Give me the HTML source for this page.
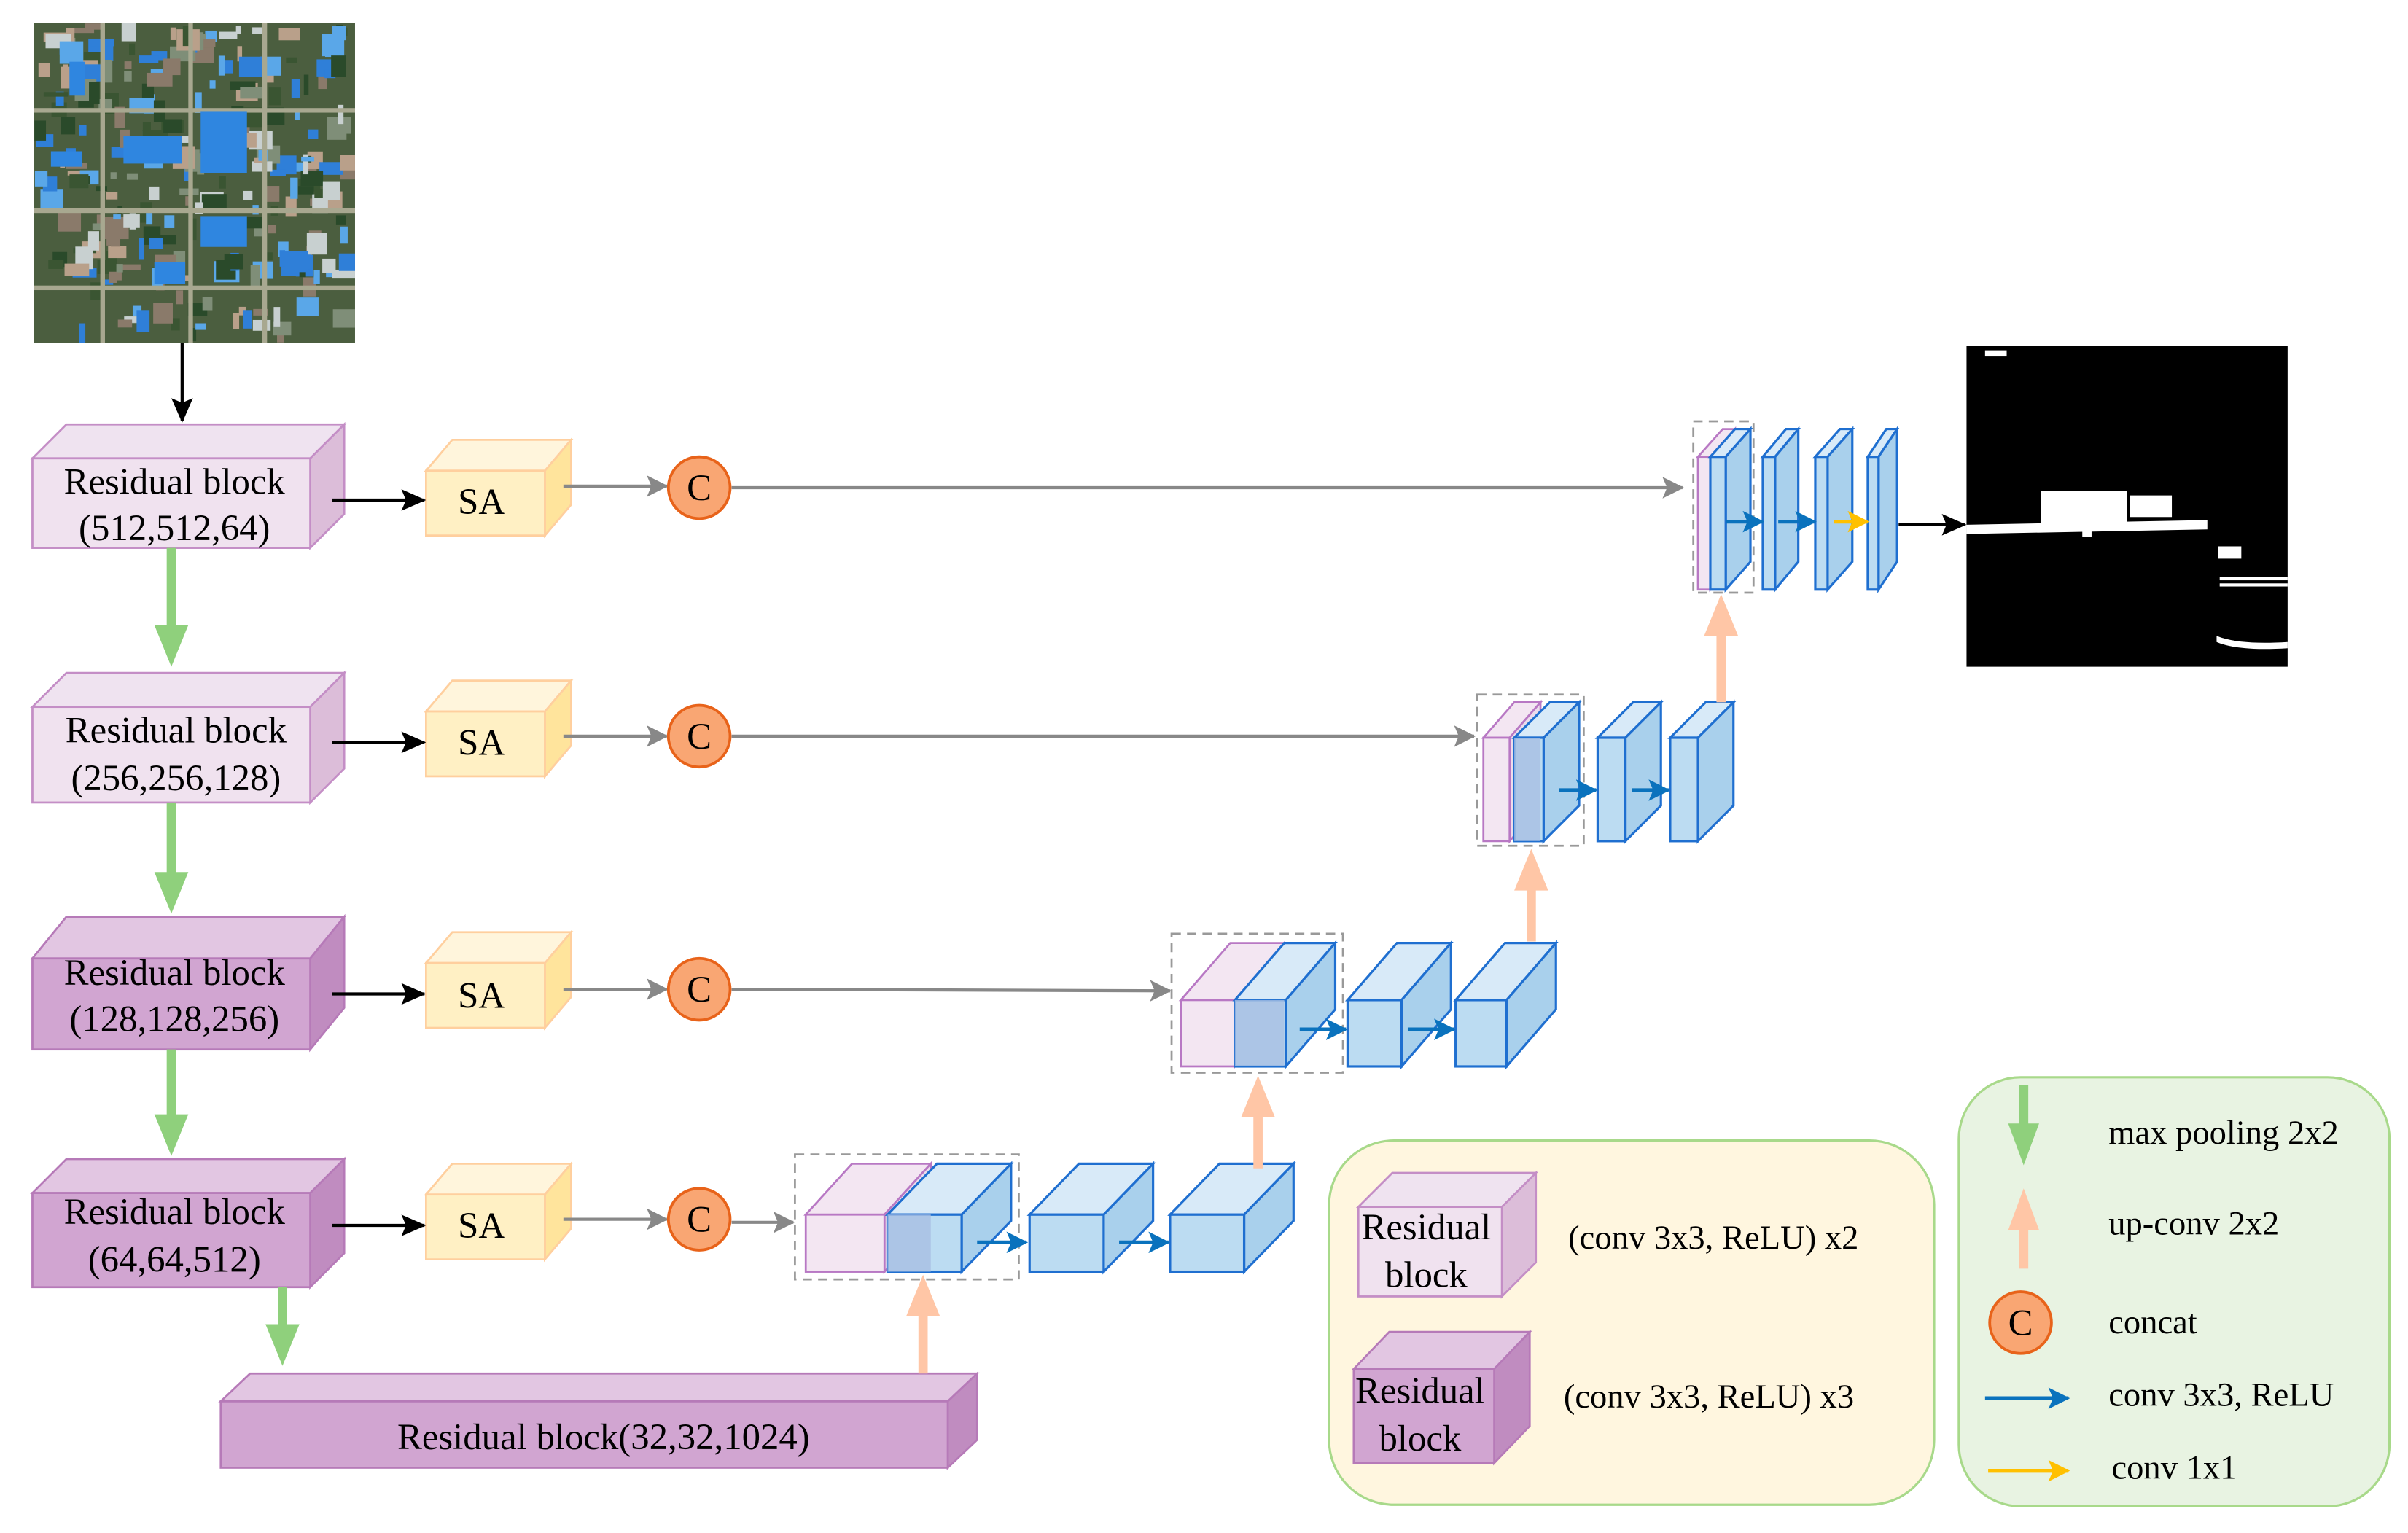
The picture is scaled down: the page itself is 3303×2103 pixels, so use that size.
<!DOCTYPE html>
<html><head><meta charset="utf-8"><style>
html,body{margin:0;padding:0;background:#fff}
svg{display:block}
text{font-family:"Liberation Serif","DejaVu Serif","Times New Roman",serif;fill:#000}
</style></head><body>
<svg id="s" width="3303" height="2103" viewBox="0 0 1560 993.3" preserveAspectRatio="none" xmlns="http://www.w3.org/2000/svg" font-family="Liberation Serif, DejaVu Serif, serif">
<defs>
<marker id="mk" markerWidth="16" markerHeight="14" refX="15" refY="7" orient="auto" markerUnits="userSpaceOnUse"><path d="M0,0 L16,7 L0,14 L3,7z" fill="#000"/></marker>
<marker id="mg" markerWidth="14" markerHeight="14" refX="13" refY="7" orient="auto" markerUnits="userSpaceOnUse"><path d="M0,0 L14,7 L0,14 L3,7z" fill="#888"/></marker>
<marker id="mb" markerWidth="14" markerHeight="14" refX="13" refY="7" orient="auto" markerUnits="userSpaceOnUse"><path d="M0,0 L14,7 L0,14 L3,7z" fill="#0a72bd"/></marker>
<marker id="my" markerWidth="14" markerHeight="14" refX="13" refY="7" orient="auto" markerUnits="userSpaceOnUse"><path d="M0,0 L14,7 L0,14 L3,7z" fill="#ffc000"/></marker>
</defs>
<g id="sat">
<rect x="22" y="15" width="208" height="207" fill="#4b5e3f"/>
</g>
<rect x="1274" y="224" width="208" height="208" fill="#000"/>
<g fill="#fff">
<rect x="1286" y="227" width="14" height="4"/>
<polygon points="1274,340 1430,337 1430,343 1274,346"/>
<rect x="1322" y="318" width="56" height="22"/>
<rect x="1380" y="321" width="27" height="14"/>
<rect x="1349" y="340" width="6" height="8"/>
<rect x="1437" y="354" width="15" height="8"/>
<rect x="1438" y="374" width="44" height="2"/>
<rect x="1438" y="378" width="44" height="2"/>
<path d="M1436,412 Q1450,418 1482,416 L1482,420 Q1450,422 1436,416z"/>
</g>
<rect x="861" y="739" width="392" height="236" rx="42" fill="#fff6df" stroke="#a8d98a" stroke-width="1.5"/>
<rect x="1269" y="698" width="279" height="278" rx="40" fill="#e8f3e2" stroke="#a8d98a" stroke-width="1.5"/>
<g id="shapes"></g>
<g stroke="#000" stroke-width="2" fill="none">
<line x1="118" y1="222" x2="118" y2="273" marker-end="url(#mk)"/>
<line x1="215" y1="324" x2="275" y2="324" marker-end="url(#mk)"/>
<line x1="215" y1="481" x2="275" y2="481" marker-end="url(#mk)"/>
<line x1="215" y1="644" x2="275" y2="644" marker-end="url(#mk)"/>
<line x1="215" y1="794" x2="275" y2="794" marker-end="url(#mk)"/>
<line x1="1230" y1="340" x2="1273" y2="340" marker-end="url(#mk)"/>
</g>
<g stroke="#888" stroke-width="2" fill="none">
<line x1="365" y1="315" x2="432" y2="315" marker-end="url(#mg)"/>
<line x1="365" y1="477" x2="432" y2="477" marker-end="url(#mg)"/>
<line x1="365" y1="641" x2="432" y2="641" marker-end="url(#mg)"/>
<line x1="365" y1="790" x2="432" y2="790" marker-end="url(#mg)"/>
<line x1="474" y1="316" x2="1090" y2="316" marker-end="url(#mg)"/>
<line x1="474" y1="477" x2="955" y2="477" marker-end="url(#mg)"/>
<line x1="474" y1="641" x2="758" y2="642" marker-end="url(#mg)"/>
<line x1="474" y1="792" x2="514" y2="792" marker-end="url(#mg)"/>
</g>
<g id="fat"></g>
<g id="circ"></g>
<g font-size="24" text-anchor="middle">
<text x="113" y="320">Residual block</text><text x="113" y="350">(512,512,64)</text>
<text x="114" y="481">Residual block</text><text x="114" y="512">(256,256,128)</text>
<text x="113" y="638">Residual block</text><text x="113" y="668">(128,128,256)</text>
<text x="113" y="793">Residual block</text><text x="113" y="824">(64,64,512)</text>
<text x="391" y="939">Residual block(32,32,1024)</text>
<text x="312" y="333">SA</text><text x="312" y="489">SA</text><text x="312" y="653">SA</text><text x="312" y="802">SA</text>
<text x="924" y="803">Residual</text><text x="924" y="834">block</text>
<text x="920" y="909">Residual</text><text x="920" y="940">block</text>
<text x="453" y="324">C</text><text x="453" y="485">C</text><text x="453" y="649">C</text><text x="453" y="798">C</text><text x="1309" y="865">C</text>
</g>
<g font-size="22">
<text x="1016" y="809">(conv 3x3, ReLU) x2</text>
<text x="1013" y="912">(conv 3x3, ReLU) x3</text>
<text x="1366" y="741">max pooling 2x2</text>
<text x="1366" y="800">up-conv 2x2</text>
<text x="1366" y="864">concat</text>
<text x="1366" y="911">conv 3x3, ReLU</text>
<text x="1368" y="958">conv 1x1</text>
</g>
</svg>
<script>
var NS="http://www.w3.org/2000/svg";
function el(p,t,a,before){var e=document.createElementNS(NS,t);for(var k in a)e.setAttribute(k,a[k]);document.getElementById(p).appendChild(e);return e;}
function box(x,y,w,h,dx,dy,c,p){p=p||"shapes";var sw=c.sw||1.3;
 el(p,"polygon",{points:[x,y,x+dx,y-dy,x+w+dx,y-dy,x+w,y].join(","),fill:c.t,stroke:c.s,"stroke-width":sw,"fill-opacity":c.o||1});
 el(p,"polygon",{points:[x+w,y,x+w+dx,y-dy,x+w+dx,y+h-dy,x+w,y+h].join(","),fill:c.r,stroke:c.s,"stroke-width":sw,"fill-opacity":c.o||1});
 el(p,"rect",{x:x,y:y,width:w,height:h,fill:c.f,stroke:c.s,"stroke-width":sw,"fill-opacity":c.o||1});}
var L={f:"#f0e2ef",t:"#efe3f0",r:"#dcbdd9",s:"#c48ec6"};
var D={f:"#d1a5d1",t:"#e2c6e2",r:"#c08cc0",s:"#b67ab8"};
var S={f:"#fff0c4",t:"#fff5dc",r:"#ffe49c",s:"#ffcf9e"};
var P={f:"#f3e6f2",t:"#f3e6f2",r:"#ecdcec",s:"#b878c4"};
var B={f:"#bcdcf2",t:"#d8eaf8",r:"#a9d0ec",s:"#1f6fd0",sw:1.5};
(function(){var cols=["#2f7fd8","#5aa7e8","#c8d0d0","#8a7a6a","#3a5532","#7f8e78","#b9a08a","#2a4a2a"];
 var seed=7;function r(){seed=(seed*9301+49297)%233280;return seed/233280;}
 for(var i=0;i<260;i++){var x=22+r()*200,y=15+r()*200,w=3+r()*14,h=3+r()*12;
  var c=cols[Math.floor(r()*cols.length)];el("sat","rect",{x:x,y:y,width:Math.min(w,230-x),height:Math.min(h,222-y),fill:c});}
 [[22,70,208,3],[22,135,208,3],[22,185,208,3],[65,15,3,207],[122,15,3,207],[170,15,3,207]].forEach(function(a){el("sat","rect",{x:a[0],y:a[1],width:a[2],height:a[3],fill:"#a8a890"});});
 [[80,88,38,18],[130,72,30,40],[45,40,10,22],[130,140,30,20],[100,170,20,14],[33,98,20,10]].forEach(function(a){el("sat","rect",{x:a[0],y:a[1],width:a[2],height:a[3],fill:"#2f86e0"});});
})();
box(21,297,180,58,22,22,L);box(21,458,180,62,22,22,L);box(21,621,180,59,22,27,D);box(21,773,180,61,22,22,D);
box(143,908,471,43,19,18,D);
[305,461,624,774].forEach(function(y){box(276,y,77,42,17,20,S);});
// legend boxes
box(880,782,93,58,22,22,L);box(877,887,91,61,23,24,D);
box(522,787,51,37,30,33,P);box(575,787,48,37,32,33,B);el("shapes","rect",{x:575,y:787,width:28,height:37,fill:"#a8bfe2","fill-opacity":0.8});
box(667,787,48,37,32,33,B);box(758,787,48,37,32,33,B);
box(765,648,35,43,32,37,P);box(800,648,33,43,32,37,B);el("shapes","rect",{x:800,y:648,width:32,height:43,fill:"#a8bfe2","fill-opacity":0.8});
box(873,648,35,43,32,37,B);box(943,648,33,43,32,37,B);
box(961,478,17,67,20,23,P);box(981,478,19,67,23,23,B);el("shapes","rect",{x:981,y:478,width:17,height:67,fill:"#a8bfe2","fill-opacity":0.8});
box(1035,478,18,67,23,23,B);box(1082,478,18,67,23,23,B);
box(1100,296,8,86,16,18,P);box(1108,296,10,86,16,18,B);box(1142,296,8,86,15,18,B);box(1176,296,8,86,16,18,B);box(1210,296,7,86,12,18,B);
[[515,748,145,81],[759,605,111,90],[957,450,69,98],[1097,273,39,111]].forEach(function(a){el("shapes","rect",{x:a[0],y:a[1],width:a[2],height:a[3],fill:"none",stroke:"#999","stroke-width":1.3,"stroke-dasharray":"6,4"});});
function arr(x1,y1,x2,y2,c,m){el("fat","line",{x1:x1,y1:y1,x2:x2,y2:y2,stroke:c,"stroke-width":2.5,"marker-end":"url(#"+m+")"});}
arr(633,805,665,805,"#0a72bd","mb");arr(725,805,757,805,"#0a72bd","mb");
arr(842,667,872,667,"#0a72bd","mb");arr(912,667,942,667,"#0a72bd","mb");
arr(1010,512,1034,512,"#0a72bd","mb");arr(1057,512,1081,512,"#0a72bd","mb");
arr(1118,338,1142,338,"#0a72bd","mb");arr(1152,338,1176,338,"#0a72bd","mb");arr(1188,338,1210,338,"#ffc000","my");
arr(1286,906,1340,906,"#0a72bd","mb");arr(1288,953,1340,953,"#ffc000","my");
function fat(x,y1,y2,c,hw){hw=hw||11;var d=y2>y1?1:-1,hl=27*d;
 el("fat","line",{x1:x,y1:y1,x2:x,y2:y2-hl+2*d,stroke:c,"stroke-width":6});
 el("fat","polygon",{points:[x-hw,y2-hl,x+hw,y2-hl,x,y2].join(","),fill:c});}
var G="#8fd07c",O="#ffc6a6";
fat(111,355,432,G);fat(111,520,592,G);fat(111,680,749,G);fat(183,834,885,G);
fat(598,890,826,O);fat(815,757,697,O);fat(992,610,550,O);fat(1115,455,385,O);
fat(1311,703,755,G,10);fat(1311,822,770,O,10);
[[453,316],[453,477],[453,641],[453,790],[1309,857]].forEach(function(c){el("circ","circle",{cx:c[0],cy:c[1],r:20,fill:"#f9a673",stroke:"#e8631a","stroke-width":1.8});});
</script>
</body></html>
